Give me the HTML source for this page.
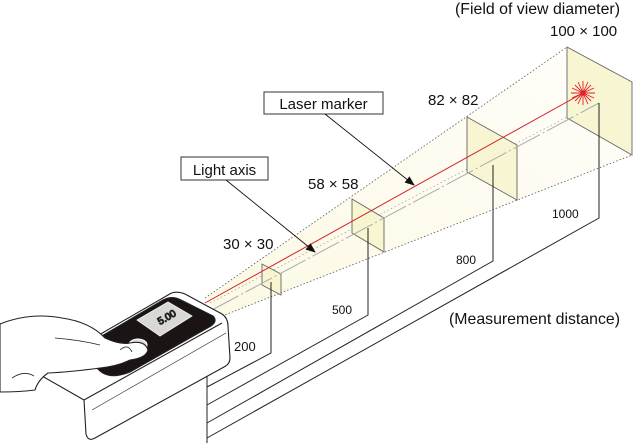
<!DOCTYPE html>
<html><head><style>
html,body{margin:0;padding:0;background:#fff;}
svg{display:block;}
text{font-family:"Liberation Sans",sans-serif;fill:#111;}
</style></head><body>
<svg width="634" height="444" viewBox="0 0 634 444" xmlns="http://www.w3.org/2000/svg">
<defs>
<linearGradient id="bg" x1="0" y1="1" x2="1" y2="0">
<stop offset="0" stop-color="#fcf9e4"/><stop offset="1" stop-color="#fffefa"/>
</linearGradient>
<marker id="ar" markerWidth="10" markerHeight="8" refX="9" refY="4" orient="auto" markerUnits="userSpaceOnUse">
<path d="M0,0 L10,4 L0,8 Z" fill="#111"/></marker>
</defs>
<polygon points="205,298 567,47 632,82 632,155 222,316" fill="url(#bg)"/>
<line x1="205" y1="298" x2="567" y2="47" stroke="#555" stroke-width="0.8" stroke-dasharray="1.5,2"/>
<line x1="210" y1="303" x2="567" y2="117" stroke="#888" stroke-width="0.6" stroke-dasharray="1.5,2.5"/>
<line x1="222" y1="316" x2="632" y2="155" stroke="#555" stroke-width="0.8" stroke-dasharray="1.5,2"/>
<line x1="567" y1="47" x2="632" y2="82" stroke="#555" stroke-width="0.6" stroke-dasharray="1.5,2"/>
<g fill="#f7f3cc" fill-opacity="0.85" stroke="#666" stroke-width="0.9">
<polygon points="567,47 632,82 632,155 567,118"/>
<polygon points="467,117 517,145 517,200 467,172"/>
<polygon points="352,199 384,218 384,252 352,233"/>
<polygon points="262,264 281,274 281,295 262,285"/>
</g>
<line x1="212" y1="310" x2="599" y2="103" stroke="#aaa" stroke-width="1" stroke-dasharray="30,3,2,3"/>
<line x1="205" y1="303" x2="583" y2="93" stroke="#d0202a" stroke-width="1"/>
<g stroke="#e0202a" stroke-width="0.9">
<line x1="571" y1="93" x2="595" y2="93"/><line x1="583" y1="81" x2="583" y2="105"/>
<line x1="575" y1="85" x2="591" y2="101"/><line x1="575" y1="101" x2="591" y2="85"/>
<line x1="572" y1="88" x2="594" y2="98"/><line x1="572" y1="98" x2="594" y2="88"/>
<line x1="578" y1="82" x2="588" y2="104"/><line x1="588" y1="82" x2="578" y2="104"/>
</g>
<circle cx="583" cy="93" r="2.5" fill="#e0202a"/>
<g stroke="#222" stroke-width="1" fill="none">
<polyline points="271,282 271,353 207,387"/>
<polyline points="368,228 368,315 207,405"/>
<polyline points="493,165 493,261 207,423"/>
<polyline points="599,103 599,218 207,438"/>
<line x1="207" y1="367" x2="207" y2="443"/>
</g>
<rect x="264" y="92" width="119" height="22" fill="#fff" stroke="#333"/>
<text x="323.5" y="109" font-size="15" text-anchor="middle">Laser marker</text>
<line x1="325" y1="114" x2="414" y2="185" stroke="#111" stroke-width="0.9" marker-end="url(#ar)"/>
<rect x="181" y="157" width="87" height="23" fill="#fff" stroke="#333"/>
<text x="224.5" y="175" font-size="15" text-anchor="middle">Light axis</text>
<line x1="226" y1="180" x2="315" y2="252" stroke="#111" stroke-width="0.9" marker-end="url(#ar)"/>
<text x="455" y="14" font-size="15.5" textLength="165" lengthAdjust="spacingAndGlyphs">(Field of view diameter)</text>
<text x="550" y="36" font-size="15">100 × 100</text>
<text x="428" y="105" font-size="15">82 × 82</text>
<text x="308" y="189" font-size="15">58 × 58</text>
<text x="223" y="249" font-size="15">30 × 30</text>
<text x="552" y="218" font-size="12">1000</text>
<text x="456" y="264" font-size="12">800</text>
<text x="332" y="314" font-size="12">500</text>
<text x="234" y="351" font-size="13">200</text>
<text x="449" y="324" font-size="16" textLength="171" lengthAdjust="spacingAndGlyphs">(Measurement distance)</text>
<g stroke="#222" stroke-width="1.1" stroke-linejoin="round">
<path d="M35,372 L168,295 Q175,290 185,294 L222,314 Q228,318 228,326 L230,358 Q230,364 224,367 L95,438 Q88,442 86,434 L84,400 Z" fill="#fff"/>
<path d="M84,400 L222,323" fill="none"/>
<path d="M92,410 L226,333" fill="none" stroke-width="0.6"/>
<path d="M95,340 L163,300 Q172,295 181,300 L213,316 Q218,321 211,326 L130,372 Q105,382 95,365 Z" fill="#1b1414"/>
<polygon points="137,320 168,302 192,316 160,336" fill="#d8d8d4" stroke="#eee" stroke-width="1"/>
<text x="160" y="325" font-size="10" transform="rotate(-30 160 325)" style="fill:#333">5.00</text>
<ellipse cx="138" cy="345" rx="9" ry="6" fill="#ddd" stroke="#fff"/>
<path d="M0,324 Q30,312 62,318 Q90,322 105,338 Q120,345 130,343 Q145,340 148,350 Q146,358 130,360 Q118,366 100,368 Q70,372 48,373 Q38,380 35,390 Q20,392 0,392 Z" fill="#fff"/>
<path d="M55,338 Q80,340 100,345" fill="none" stroke-width="0.8"/>
<path d="M120,350 Q128,343 132,352" fill="none" stroke-width="0.8"/>
<path d="M12,378 Q24,370 34,376" fill="none" stroke-width="0.8"/>
</g>
</svg>
</body></html>
